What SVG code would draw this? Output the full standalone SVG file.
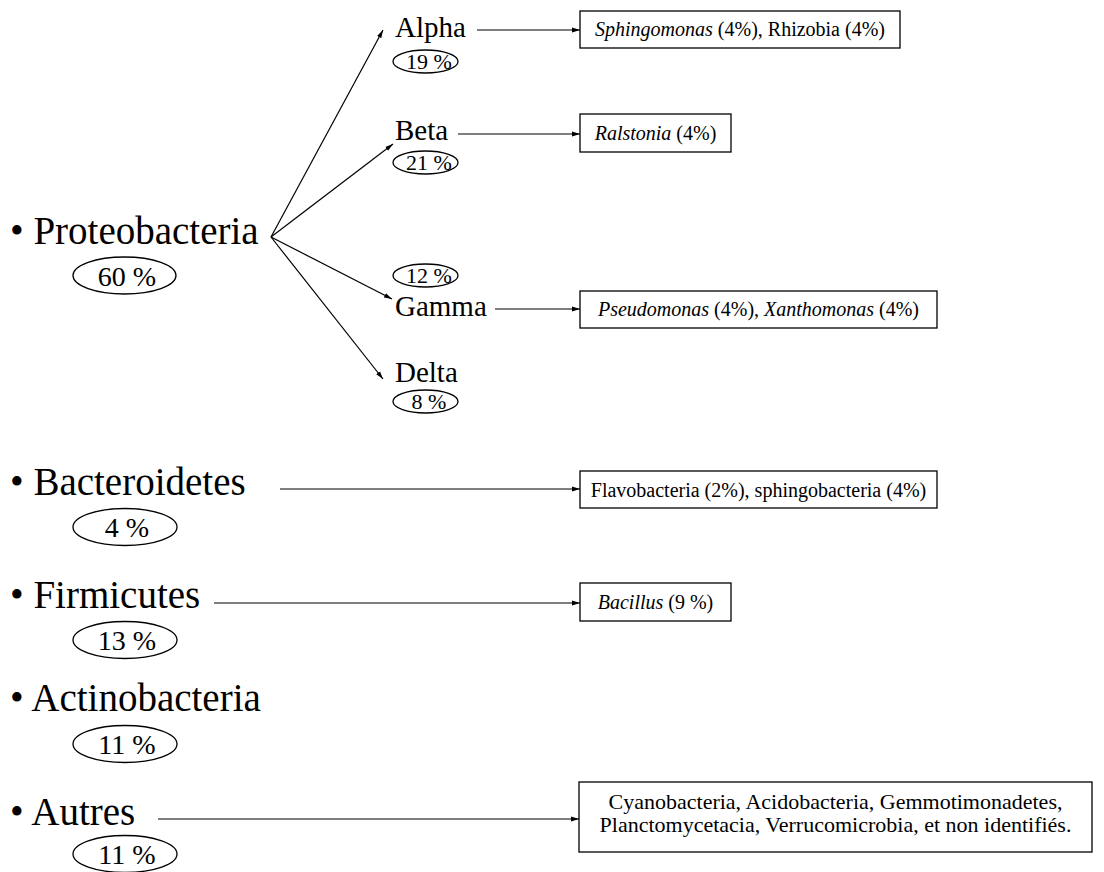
<svg xmlns="http://www.w3.org/2000/svg" width="1104" height="872" viewBox="0 0 1104 872">
<style>
text{font-family:"Liberation Serif","Times New Roman",serif;fill:#000}
.big{font-size:39px}
.sub{font-size:29px}
.pct{font-size:28px;text-anchor:middle}
.spct{font-size:22px;text-anchor:middle}
.box{fill:#fff;stroke:#000;stroke-width:1.3}
.ell{fill:none;stroke:#000;stroke-width:1.3}
.bt{font-size:20px;text-anchor:middle}
.it{font-style:italic}
.conn line{stroke:#000;stroke-width:1.2;marker-end:url(#arr)}
</style>
<defs>
<marker id="arr" markerUnits="userSpaceOnUse" markerWidth="8" markerHeight="6" refX="8" refY="3" orient="auto">
<path d="M0,0.6 L8,3 L0,5.4 z" fill="#000"/>
</marker>
</defs>
<rect width="1104" height="872" fill="#fff"/>

<g id="proteobacteria">
<text class="big" x="10" y="244">• Proteobacteria</text>
<ellipse class="ell" cx="124.5" cy="275.5" rx="51.5" ry="18.5"/>
<text class="pct" x="127" y="286">60 %</text>
</g>
<g id="alpha">
<text class="sub" x="395" y="37">Alpha</text>
<ellipse class="ell" cx="425.5" cy="61.5" rx="32.5" ry="11.5"/>
<text class="spct" x="429" y="68.5">19 %</text>
</g>
<g id="beta">
<text class="sub" x="395" y="140">Beta</text>
<ellipse class="ell" cx="425.5" cy="162.5" rx="32.5" ry="11.5"/>
<text class="spct" x="429" y="169.5">21 %</text>
</g>
<g id="gamma">
<ellipse class="ell" cx="425.5" cy="275.5" rx="32.5" ry="11.5"/>
<text class="spct" x="429" y="282.5">12 %</text>
<text class="sub" x="395" y="316">Gamma</text>
</g>
<g id="delta">
<text class="sub" x="395" y="382">Delta</text>
<ellipse class="ell" cx="425.5" cy="401.5" rx="32.5" ry="11.5"/>
<text class="spct" x="429" y="408.5">8 %</text>
</g>
<g id="bacteroidetes">
<text class="big" x="10" y="495">• Bacteroidetes</text>
<ellipse class="ell" cx="125" cy="527" rx="52" ry="18.5"/>
<text class="pct" x="127" y="537">4 %</text>
</g>
<g id="firmicutes">
<text class="big" x="10" y="608">• Firmicutes</text>
<ellipse class="ell" cx="125" cy="640" rx="52" ry="18.5"/>
<text class="pct" x="127" y="650">13 %</text>
</g>
<g id="actinobacteria">
<text class="big" x="10" y="711">• Actinobacteria</text>
<ellipse class="ell" cx="125" cy="744" rx="52" ry="18.5"/>
<text class="pct" x="127" y="754">11 %</text>
</g>
<g id="autres">
<text class="big" x="10" y="825">• Autres</text>
<ellipse class="ell" cx="125" cy="854" rx="52" ry="18.5"/>
<text class="pct" x="127" y="864">11 %</text>
</g>

<g id="box-alpha">
<rect class="box" x="580" y="11" width="320" height="37"/>
<text class="bt" x="740" y="36"><tspan class="it">Sphingomonas</tspan> (4%), Rhizobia (4%)</text>
</g>
<g id="box-beta">
<rect class="box" x="580" y="114" width="151" height="38"/>
<text class="bt" x="655.5" y="140"><tspan class="it">Ralstonia</tspan> (4%)</text>
</g>
<g id="box-gamma">
<rect class="box" x="580" y="291" width="357" height="37"/>
<text class="bt" x="758.5" y="316"><tspan class="it">Pseudomonas</tspan> (4%), <tspan class="it">Xanthomonas</tspan> (4%)</text>
</g>
<g id="box-bacteroidetes">
<rect class="box" x="580" y="471" width="357" height="37"/>
<text class="bt" x="758.5" y="496.5">Flavobacteria (2%), sphingobacteria (4%)</text>
</g>
<g id="box-firmicutes">
<rect class="box" x="580" y="583" width="151" height="38"/>
<text class="bt" x="655.5" y="609"><tspan class="it">Bacillus</tspan> (9 %)</text>
</g>
<g id="box-autres">
<rect class="box" x="579" y="782" width="513" height="70"/>
<text class="bt" style="font-size:22px" x="835.5" y="809">Cyanobacteria, Acidobacteria, Gemmotimonadetes,</text>
<text class="bt" style="font-size:22px" x="835.5" y="832">Planctomycetacia, Verrucomicrobia, et non identifiés.</text>
</g>

<g id="connectors" class="conn">
<line x1="271" y1="237" x2="383" y2="30"/>
<line x1="271" y1="237" x2="393" y2="144"/>
<line x1="271" y1="237" x2="392" y2="299"/>
<line x1="271" y1="237" x2="383" y2="379"/>
<line x1="477" y1="30" x2="580" y2="30"/>
<line x1="458" y1="134" x2="580" y2="134"/>
<line x1="495" y1="309" x2="580" y2="309"/>
<line x1="280" y1="489" x2="580" y2="489"/>
<line x1="214" y1="603" x2="580" y2="603"/>
<line x1="158" y1="819" x2="579" y2="819"/>
</g>
</svg>
